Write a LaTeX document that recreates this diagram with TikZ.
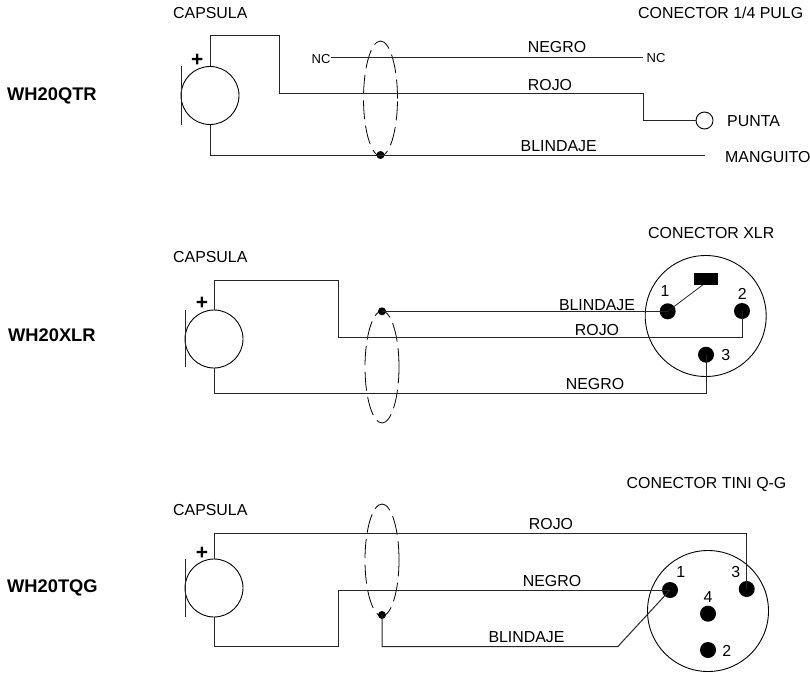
\documentclass[tikz,border=0pt]{standalone}
\usepackage{fontspec}
\setmainfont{Liberation Sans}
\newcommand{\lblsize}{\fontsize{15.9}{18}\selectfont}
\newcommand{\ncsize}{\fontsize{13}{15}\selectfont}
\newcommand{\modelsize}{\fontsize{18.3}{20}\selectfont\bfseries}
\newcommand{\plussize}{\fontsize{21}{23}\selectfont\bfseries}
\usetikzlibrary{shapes.geometric}
\tikzset{
  x=1pt,y=-1pt,
  wire/.style={draw=black!85,line width=1pt,line join=miter},
  capsule/.style={circle,draw=black,line width=0.9pt,minimum size=58pt,inner sep=0pt},
  plate/.style={draw=black!85,line width=1pt},
  shield/.style={ellipse,draw=black,line width=0.8pt,dash pattern=on 19pt off 6.5pt,minimum width=34pt,minimum height=112pt,inner sep=0pt},
  joint/.style={circle,fill=black,minimum size=8pt,inner sep=0pt},
  pin/.style={circle,fill=black,minimum size=16pt,inner sep=0pt},
  conn/.style={circle,draw=black,line width=0.9pt,minimum size=121pt,inner sep=0pt},
  jack/.style={circle,draw=black,line width=0.9pt,fill=white,minimum size=17pt,inner sep=0pt},
  lbl/.style={anchor=base,inner sep=0pt,font=\lblsize},
  lblw/.style={anchor=base west,inner sep=0pt,font=\lblsize},
  nc/.style={anchor=base west,inner sep=0pt,font=\ncsize},
  model/.style={anchor=base west,inner sep=0pt,font=\modelsize},
  plussign/.style={anchor=base,inner sep=0pt,font=\plussize},
}
\begin{document}
\begin{tikzpicture}
\useasboundingbox (0,0) rectangle (810,674);
% Panel 1
\node[model] (m1) at (7,100) {WH20QTR};
\node[lblw] (c1) at (173,19) {CAPSULA};
\node[lblw] (t1) at (638,19) {CONECTOR 1/4 PULG};
\node[capsule] (cap1) at (210,95.5) {};
\draw[plate] (181,66) -- (181,125);
\node[plussign] (plus1) at (197.3,66.3) {+};
\node[shield,minimum height=115pt] (sh1) at (380.5,98.5) {};
\node[joint] (j1) at (380.5,155) {};
\node[nc] (nc1a) at (311.5,64) {NC};
\node[nc] (nc1b) at (646.5,63) {NC};
\node[jack] (jk1) at (704.5,120.5) {};
\coordinate (m1end) at (705,155.5);
\coordinate (nc1l) at (331,58);
\coordinate (nc1r) at (643,58);
\draw[wire] (nc1l) -- (nc1r);
\draw[wire] (cap1.north) -- (210,36) -- (279,36) -- (279,94) -- (643,94) -- (643,120.5) -- (jk1.west);
\draw[wire] (cap1.south) -- (210,155.5) -- (m1end);
\node[lbl] (n1) at (557,53) {NEGRO};
\node[lbl] (r1) at (550,91) {ROJO};
\node[lbl] (b1) at (558.7,151) {BLINDAJE};
\node[lblw] (pu1) at (727,126) {PUNTA};
\node[lblw] (ma1) at (725,162) {MANGUITO};
% Panel 2
\node[model] (m2) at (8,341.7) {WH20XLR};
\node[lblw] (c2) at (173,262.7) {CAPSULA};
\node[lblw] (t2) at (648,238) {CONECTOR XLR};
\node[capsule] (cap2) at (214,339) {};
\draw[plate] (185.5,310) -- (185.5,367);
\node[plussign] (plus2) at (202,309) {+};
\node[shield] (sh2) at (382,367) {};
\node[joint] (j2) at (382,311.3) {};
\node[conn] (con2) at (705.7,316) {};
\node[pin] (p21) at (667.7,311.3) {};
\node[pin] (p22) at (742,311) {};
\node[pin] (p23) at (706,354.7) {};
\node[fill=black,minimum width=24pt,minimum height=12pt,inner sep=0pt] (key2) at (706.4,279.2) {};
\draw[wire] (cap2.north) -- (214,280.5) -- (338.5,280.5) -- (338.5,337) -- (742,337) -- (p22.center);
\draw[wire] (cap2.south) -- (214,393.7) -- (706,393.7) -- (p23.center);
\draw[wire] (j2.center) -- (p21.center);
\draw[wire,line width=0.8pt] (p21.center) -- (702.7,285);
\node[lbl] (b2) at (597,310) {BLINDAJE};
\node[lbl] (r2) at (597,335) {ROJO};
\node[lbl] (n2) at (595,389.3) {NEGRO};
\node[lbl] (d21) at (665,296.7) {1};
\node[lbl] (d22) at (742.3,299) {2};
\node[lbl] (d23) at (725.7,360) {3};
% Panel 3
\node[model] (m3) at (7,592.7) {WH20TQG};
\node[lblw] (c3) at (173,515) {CAPSULA};
\node[lblw] (t3) at (626.5,488) {CONECTOR TINI Q-G};
\node[capsule] (cap3) at (214,588) {};
\draw[plate] (185.5,559) -- (185.5,617);
\node[plussign] (plus3) at (202,559) {+};
\node[shield] (sh3) at (382,560) {};
\node[joint] (j3) at (382,615) {};
\node[conn] (con3) at (708,611) {};
\node[pin] (p31) at (670,590) {};
\node[pin] (p33) at (746.7,589) {};
\node[pin] (p34) at (708,613.7) {};
\node[pin] (p32) at (708,650) {};
\draw[wire] (cap3.north) -- (214,533.3) -- (746.7,533.3) -- (p33.center);
\draw[wire] (cap3.south) -- (214,646.7) -- (338.5,646.7) -- (338.5,590) -- (p31.center);
\draw[wire] (j3.center) -- (382,646.7) -- (617.7,646.7) -- (p31.center);
\node[lbl] (r3) at (551,529) {ROJO};
\node[lbl] (n3) at (552,586) {NEGRO};
\node[lbl] (b3) at (526.5,642.3) {BLINDAJE};
\node[lbl] (d31) at (680.7,577.7) {1};
\node[lbl] (d33) at (735.7,577.7) {3};
\node[lbl] (d34) at (708,602.3) {4};
\node[lbl] (d32) at (726.7,656.7) {2};
\end{tikzpicture}
\end{document}
